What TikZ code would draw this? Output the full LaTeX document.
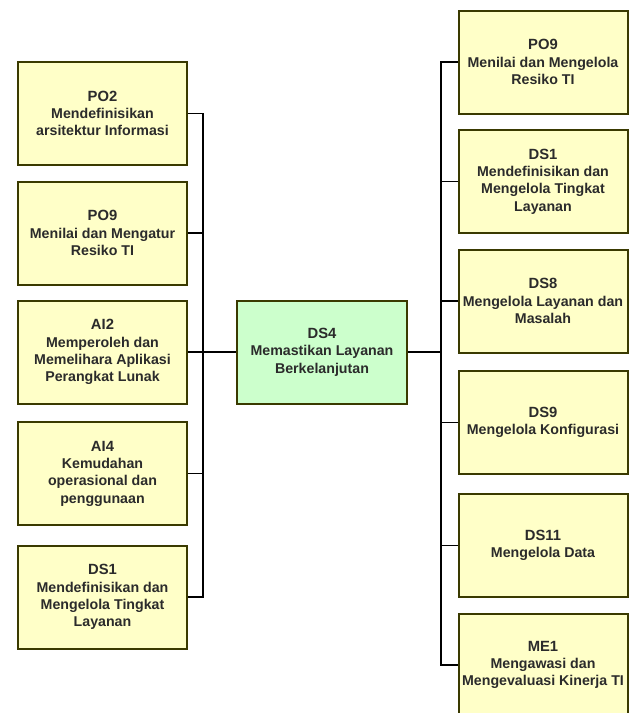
\documentclass[tikz,border=0pt]{standalone}
\usepackage{fontspec}
\setmainfont{Liberation Sans}
\definecolor{kuning}{HTML}{FFFFC8}
\definecolor{hijau}{HTML}{CCFFCC}
\definecolor{tepi}{HTML}{3A3A00}
\definecolor{teks}{HTML}{2B2B2B}
\newcommand{\kode}[1]{{\fontsize{14.8}{17}\selectfont #1}}

\begin{document}
\begin{tikzpicture}[x=1pt, y=-1pt,
    kotak/.style={draw=tepi, line width=2pt, fill=kuning,
        minimum width=169pt, minimum height=103pt, inner sep=0pt,
        align=center, text=teks, font=\bfseries\fontsize{14.2}{17.3}\selectfont},
    pusat/.style={kotak, fill=hijau, minimum width=170pt},
    garis/.style={black, line width=1.1pt},
    tebal/.style={black, line width=1.9pt}]
    \useasboundingbox (0,0) rectangle (632,713);

    % ---- Kotak kiri ----
    \node[kotak] (po2) at (102.5,113.5) {\kode{PO2}\\Mendefinisikan\\arsitektur Informasi};
    \node[kotak] (po9k) at (102.5,233) {\kode{PO9}\\Menilai dan Mengatur\\Resiko TI};
    \node[kotak] (ai2) at (102.5,352) {\kode{AI2}\\Memperoleh dan\\Memelihara Aplikasi\\Perangkat Lunak};
    \node[kotak] (ai4) at (102.5,473.5) {\kode{AI4}\\Kemudahan\\operasional dan\\penggunaan};
    \node[kotak] (ds1k) at (102.5,597) {\kode{DS1}\\Mendefinisikan dan\\Mengelola Tingkat\\Layanan};

    % ---- Kotak tengah ----
    \node[pusat] (ds4) at (322,352) {\kode{DS4}\\Memastikan Layanan\\Berkelanjutan};

    % ---- Kotak kanan ----
    \node[kotak] (po9) at (543,62) {\kode{PO9}\\Menilai dan Mengelola\\Resiko TI};
    \node[kotak] (ds1) at (543,181.5) {\kode{DS1}\\Mendefinisikan dan\\Mengelola Tingkat\\Layanan};
    \node[kotak] (ds8) at (543,301) {\kode{DS8}\\Mengelola Layanan dan\\Masalah};
    \node[kotak] (ds9) at (543,422.5) {\kode{DS9}\\Mengelola Konfigurasi};
    \node[kotak] (ds11) at (543,545.5) {\kode{DS11}\\Mengelola Data};
    \node[kotak] (me1) at (543,665) {\kode{ME1}\\Mengawasi dan\\Mengevaluasi Kinerja TI};

    % ---- Garis penghubung ----
    \coordinate (busL) at (203,352);
    \coordinate (busR) at (441,352);
    \foreach \k in {po2,po9k,ai2,ai4,ds1k}
        \draw[garis] (\k.east) -| (busL);
    \foreach \k in {po9,ds1,ds8,ds9,ds11,me1}
        \draw[garis] (busR) |- (\k.west);
    \draw[tebal] (busL) -- (ds4.west);
    \draw[tebal] (ds4.east) -- (busR);
\end{tikzpicture}
\end{document}
